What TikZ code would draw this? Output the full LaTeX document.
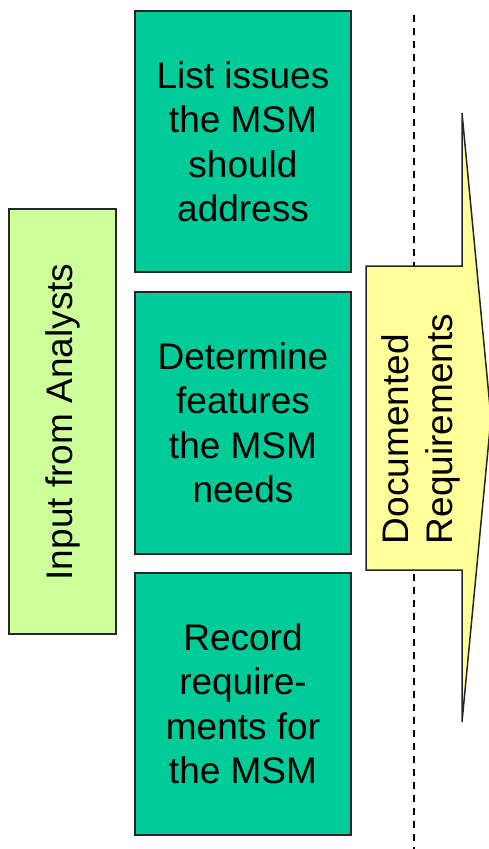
\documentclass[tikz,border=0pt]{standalone}
\usepackage{fontspec}
\setmainfont{Liberation Sans}
\definecolor{teal1}{HTML}{00CC99}
\definecolor{lgreen}{HTML}{CCFF99}
\definecolor{lyellow}{HTML}{FFFF99}
\begin{document}
\begin{tikzpicture}[x=1pt,y=-1pt,
  bigtext/.style={font=\fontsize{37}{44.5}\selectfont},
  stepbox/.style={draw=black!85,line width=1.5pt,fill=teal1},
  outl/.style={draw=black!85,line width=1.5pt}]
\useasboundingbox (0,0) rectangle (489,849);
% dashed line
\coordinate (dtop) at (414,15);
\coordinate (dbot) at (414,849);
\draw[line width=1.5pt,dash pattern=on 7pt off 6pt] (dtop) -- (dbot);
% input box
\draw[outl,fill=lgreen] (9,209) rectangle (116,634);
\node[bigtext,rotate=90,inner sep=0] (input) at (62.5,422) {Input from Analysts};
% step boxes
\draw[stepbox] (135,11) rectangle (351,272);
\node[bigtext,align=center,inner sep=0] (s1) at (243,142) {List issues\\the MSM\\should\\address};
\draw[stepbox] (135,292) rectangle (351,554);
\node[bigtext,align=center,inner sep=0] (s2) at (243,423) {Determine\\features\\the MSM\\needs};
\draw[stepbox] (135,573) rectangle (351,835);
\node[bigtext,align=center,inner sep=0] (s3) at (243,704) {Record\\require-\\ments for\\the MSM};
% arrow
\draw[outl,fill=lyellow,line join=miter] (366,266) -- (462,266) -- (462,113) -- (491,418) -- (462,722) -- (462,570) -- (366,570) -- cycle;
\node[bigtext,rotate=90,align=left,inner sep=0] (doc) at (421,429) {Documented\\Requirements};
\end{tikzpicture}
\end{document}
